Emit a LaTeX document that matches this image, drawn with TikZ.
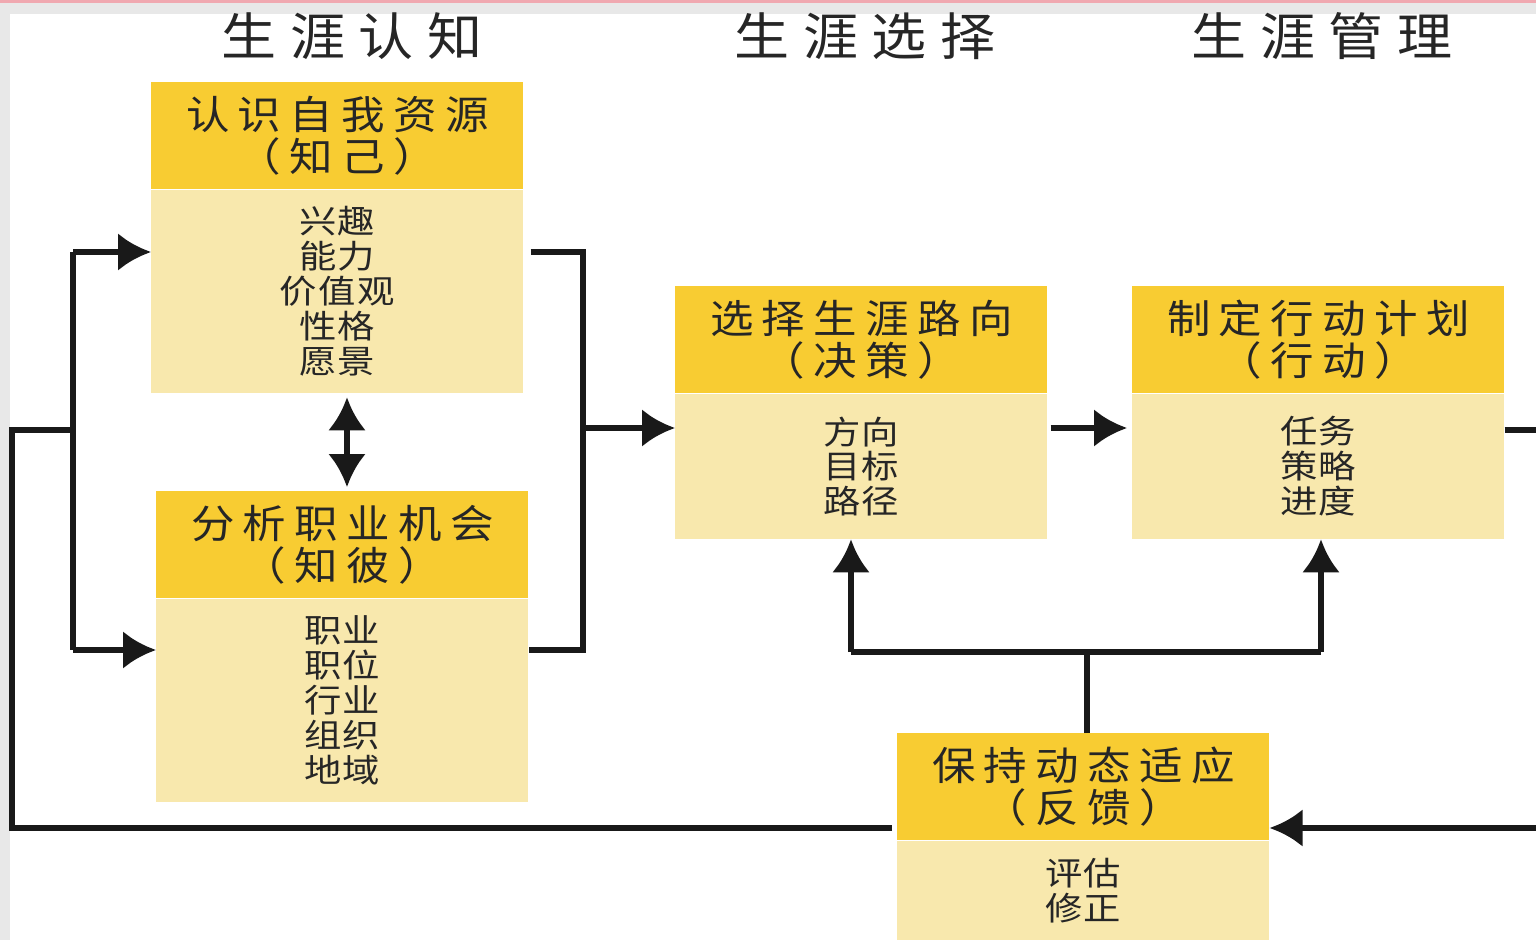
\documentclass[tikz,border=0pt]{standalone}
\usepackage{fontspec}
\setmainfont{Noto Sans CJK SC}
\newfontfamily\phasefont[LetterSpace=27, FakeStretch=1.08]{Noto Sans CJK SC}
\newfontfamily\headfont[LetterSpace=21, FakeStretch=1.1]{Noto Sans CJK SC}
\newfontfamily\bodyfont[LetterSpace=4, FakeStretch=1.15]{Noto Sans CJK SC}
\usetikzlibrary{positioning,arrows.meta}
\definecolor{headyellow}{RGB}{248,204,50}
\definecolor{bodyyellow}{RGB}{248,232,173}
\definecolor{ink}{RGB}{38,38,38}
\definecolor{margin}{RGB}{232,232,232}
\definecolor{rim}{RGB}{240,168,176}

\begin{document}
\begin{tikzpicture}[x=0.02cm, y=-0.02cm,
  phase/.style={text=ink, font=\fontsize{29}{31}\phasefont},
  head/.style={fill=headyellow, text=ink, minimum width=7.44cm, minimum height=2.14cm, inner sep=0pt, align=center, font=\fontsize{22.5}{24}\headfont},
  body/.style={fill=bodyyellow, text=ink, minimum width=7.44cm, inner sep=0pt, align=center, font=\fontsize{18.5}{19.9}\bodyfont, below=0pt of #1},
  flow/.style={line width=0.12cm, black!90},
  flowarrow/.style={flow, -{Latex[length=0.66cm, width=0.76cm]}}]
\useasboundingbox (0,0) rectangle (1536,940);
\fill[margin] (0,0) rectangle (1536,940);
\fill[white] (10,14) rectangle (1536,940);
\fill[rim] (0,0) rectangle (1536,3);

% phases
\node (cog) at (352,36) [phase] {生涯认知};
\node (sel) at (865,36) [phase] {生涯选择};
\node (man) at (1322,36) [phase] {生涯管理};

% boxes
\node (selfH) at (151,82) [head, anchor=north west] {认识自我资源\\（知己）};
\node (selfB) [body=selfH, minimum height=4.06cm] {兴趣\\能力\\价值观\\性格\\愿景};
\node (jobH) at (156,491) [head, anchor=north west] {分析职业机会\\（知彼）};
\node (jobB) [body=jobH, minimum height=4.06cm] {职业\\职位\\行业\\组织\\地域};
\node (routeH) at (675,286) [head, anchor=north west] {选择生涯路向\\（决策）};
\node (routeB) [body=routeH, minimum height=2.9cm] {方向\\目标\\路径};
\node (planH) at (1132,286) [head, anchor=north west] {制定行动计划\\（行动）};
\node (planB) [body=planH, minimum height=2.9cm] {任务\\策略\\进度};
\node (adaptH) at (897,733) [head, anchor=north west] {保持动态适应\\（反馈）};
\node (adaptB) [body=adaptH, minimum height=1.98cm] {评估\\修正};

% left bracket
\coordinate (lt) at (73,252);
\coordinate (lb) at (73,650);
\coordinate (lm) at (73,430);
\draw[flow] (lt) -- (lb);
\draw[flowarrow] (lt) -- (lt -| selfB.west);
\draw[flowarrow] (lb) -- (lb -| jobB.west);

% right bracket
\coordinate (rt) at (583,252);
\coordinate (rb) at (583,650);
\coordinate (rm) at (583,428);
\draw[flow, shorten <=0.14cm] (selfB.east |- rt) -- (rt) -- (rb) -- (jobB.east |- rb);
\draw[flowarrow] (rm) -- (rm -| routeB.west);
\draw[flowarrow, shorten <=0.06cm, shorten >=0.1cm] (routeB.east |- rm) -- (planB.west |- rm);

% double arrow
\coordinate (mid) at (347,440);
\draw[flow, {Latex[length=0.66cm, width=0.76cm]}-{Latex[length=0.66cm, width=0.76cm]}, shorten <=0.08cm, shorten >=0.08cm] (mid |- selfB.south) -- (mid |- jobH.north);

% feedback
\coordinate (re) at (1536,430);
\coordinate (rf) at (1536,828);
\coordinate (lf) at (12,828);
\draw[flow] (planB.east |- re) -- (re);
\draw[flowarrow] (rf) -- (rf -| adaptH.east);
\draw[flow, shorten <=0.1cm] (adaptH.west |- lf) -- (lf) |- (lm);
\coordinate (fl) at (851,652);
\coordinate (fr) at (1321,652);
\coordinate (fm) at (1087,652);
\draw[flow] (fl) -- (fr);
\draw[flow] (fm |- adaptH.north) -- (fm);
\draw[flowarrow] (fl) -- (fl |- routeB.south);
\draw[flowarrow] (fr) -- (fr |- planB.south);
\end{tikzpicture}
\end{document}
